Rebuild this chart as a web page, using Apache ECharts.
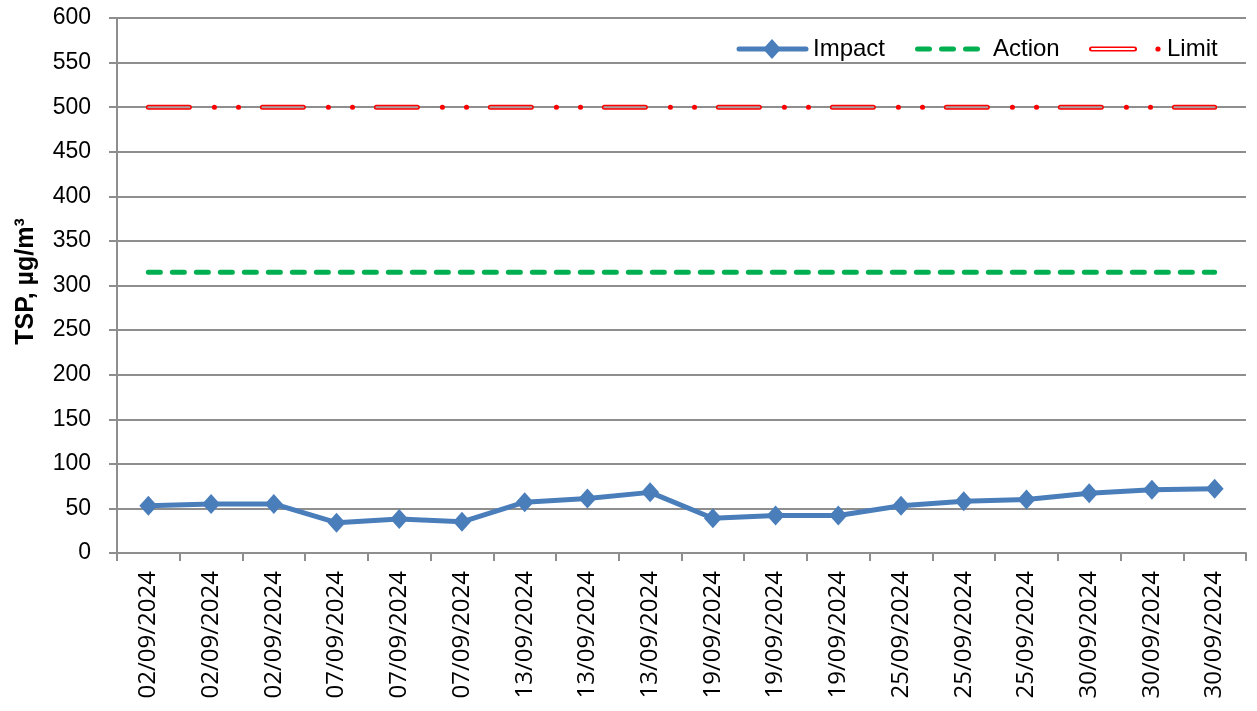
<!DOCTYPE html>
<html>
<head>
<meta charset="utf-8">
<script src="https://cdn.jsdelivr.net/npm/echarts@6/dist/echarts.min.js"></script>
<style>
html,body{margin:0;padding:0;background:#fff;}
#chart{width:1257px;height:711px;}
</style>
</head>
<body>
<div id="chart"></div>
<script>
const categories = ["02/09/2024","02/09/2024","02/09/2024","07/09/2024","07/09/2024","07/09/2024","13/09/2024","13/09/2024","13/09/2024","19/09/2024","19/09/2024","19/09/2024","25/09/2024","25/09/2024","25/09/2024","30/09/2024","30/09/2024","30/09/2024"];
const impactValues = [53,55,55,34,38,35,57,61,68,39,42,42,53,58,60,67,71,72];
const actionValues = [315,315,315,315,315,315,315,315,315,315,315,315,315,315,315,315,315,315];
const limitValues = [500,500,500,500,500,500,500,500,500,500,500,500,500,500,500,500,500,500];
const yTicks = {min:0, max:600, interval:50};

const FONT = 'Liberation Sans, Arial, sans-serif';
const XFONT = 'Open Sans, Liberation Sans, sans-serif';
const GRAY = '#8e8e8e';
const BLUE = '#4a7ebb';
const GREEN = '#00b050';
const RED = '#ff0000';

const chart = echarts.init(document.getElementById('chart'), null, {renderer:'canvas'});
chart.setOption({
  animation:false,
  backgroundColor:'#fff',
  grid:{left:117, right:11, top:18, bottom:158, containLabel:false},
  xAxis:{
    type:'category',
    data:categories,
    boundaryGap:true,
    axisLine:{show:true, lineStyle:{color:GRAY, width:2}},
    axisTick:{show:true, length:8, lineStyle:{color:GRAY, width:2}},
    axisLabel:{rotate:90, interval:0, fontSize:24, fontFamily:XFONT, color:'#000', margin:18},
    splitLine:{show:false}
  },
  yAxis:{
    type:'value',
    min:yTicks.min, max:yTicks.max, interval:yTicks.interval,
    name:'TSP, µg/m³',
    nameLocation:'middle',
    nameGap:78,
    nameTextStyle:{fontSize:25, fontWeight:'bold', fontFamily:FONT, color:'#000', padding:[0,0,0,8]},
    axisLine:{show:true, lineStyle:{color:GRAY, width:2}},
    axisTick:{show:true, length:8, lineStyle:{color:GRAY, width:2}},
    axisLabel:{fontSize:23, fontFamily:FONT, color:'#000', margin:26},
    splitLine:{show:true, lineStyle:{color:GRAY, width:2}}
  },
  series:[
    {
      name:'Limit', type:'line', data:limitValues, symbol:'none', z:3,
      lineStyle:{color:RED, width:5, type:[41,73], cap:'round'}
    },
    {
      name:'LimitInner', type:'line', data:limitValues, symbol:'none', z:4,
      lineStyle:{color:'#a8a0a0', width:2, type:[41,73], cap:'round'}
    },
    {
      name:'LimitDots', type:'line', data:limitValues, symbol:'none', z:4,
      lineStyle:{color:RED, width:5, type:[0.1,24,0.1,89.8], dashOffset:48, cap:'round'}
    },
    {
      name:'Action', type:'line', data:actionValues, symbol:'none', z:3,
      lineStyle:{color:GREEN, width:5, type:[12,12], cap:'round'}
    },
    {
      name:'Impact', type:'line', data:impactValues, z:5,
      symbol:'diamond', symbolSize:[18,20],
      itemStyle:{color:BLUE},
      lineStyle:{color:BLUE, width:5}
    }
  ],
  graphic:[
    {type:'line', shape:{x1:739, y1:49, x2:806, y2:49}, style:{stroke:BLUE, lineWidth:5, lineCap:'round'}},
    {type:'polygon', shape:{points:[[772,39],[781,49],[772,59],[763,49]]}, style:{fill:BLUE}},
    {type:'text', x:813, y:49, style:{text:'Impact', fontSize:24, fontFamily:FONT, fill:'#000', verticalAlign:'middle', textAlign:'left'}},
    {type:'line', shape:{x1:917.5, y1:49, x2:979, y2:49}, style:{stroke:GREEN, lineWidth:5, lineCap:'round', lineDash:[12,12]}},
    {type:'text', x:993, y:49, style:{text:'Action', fontSize:24, fontFamily:FONT, fill:'#000', verticalAlign:'middle', textAlign:'left'}},
    {type:'line', shape:{x1:1091.5, y1:49, x2:1134.5, y2:49}, style:{stroke:RED, lineWidth:5, lineCap:'round'}},
    {type:'line', shape:{x1:1092, y1:49, x2:1134, y2:49}, style:{stroke:'#ffffff', lineWidth:2, lineCap:'round'}},
    {type:'circle', shape:{cx:1158, cy:49, r:2.6}, style:{fill:RED}},
    {type:'text', x:1167, y:49, style:{text:'Limit', fontSize:24, fontFamily:FONT, fill:'#000', verticalAlign:'middle', textAlign:'left'}}
  ]
});
</script>
</body>
</html>
